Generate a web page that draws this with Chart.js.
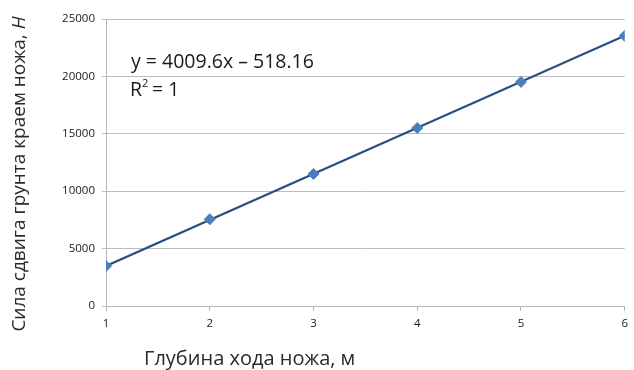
<!DOCTYPE html>
<html>
<head>
<meta charset="utf-8">
<script src="https://cdn.jsdelivr.net/npm/chart.js@4/dist/chart.umd.min.js"></script>
<style>
  html, body { margin: 0; padding: 0; background: #fff; }
  #wrap { width: 634px; height: 370px; }
</style>
</head>
<body>
<div id="wrap"><canvas id="chart" width="634" height="370"></canvas></div>
<script>
/* ---------------------------------------------------
   Data
---------------------------------------------------*/

const depths = [1, 2, 3, 4, 5, 6];
const forces = [3480, 7550, 11500, 15500, 19520, 23530];

// trendline end points, as drawn
const trendX = [1, 6];
const trendY = [3490, 23540];

const yTicks = [0, 5000, 10000, 15000, 20000, 25000];

const xTitle = "Глубина хода ножа, м";
const yTitle = "Сила сдвига грунта краем ножа, ";
const yTitleUnit = "Н";
const equation = "y = 4009.6x \u2013 518.16";

const FONT = "'Open Sans', 'DejaVu Sans', sans-serif";

/* ---------------------------------------------------
   Text labels drawn on the canvas
---------------------------------------------------*/

const labelsPlugin = {
    id: "labels",
    afterDraw(chart) {
        const ctx = chart.ctx;
        ctx.save();
        ctx.fillStyle = "#1a1a1a";

        // equation and R^2
        ctx.font = "19.5px " + FONT;
        ctx.textAlign = "left";
        ctx.textBaseline = "alphabetic";
        ctx.fillText(equation, 131, 68);
        ctx.fillText("R", 130, 96);
        const rw = ctx.measureText("R").width;
        ctx.font = "11px " + FONT;
        ctx.fillText("2", 130 + rw, 87);
        ctx.font = "19.5px " + FONT;
        ctx.fillText(" = 1", 130 + rw + 5, 96);

        // x axis title
        ctx.fillStyle = "#2a2a2a";
        ctx.font = "20px " + FONT;
        ctx.fillText(xTitle, 144, 365);

        // y axis title, rotated, with italic unit
        ctx.translate(25, 174);
        ctx.rotate(-Math.PI / 2);
        ctx.font = "19px " + FONT;
        const w1 = ctx.measureText(yTitle).width;
        ctx.font = "italic 19px " + FONT;
        const w2 = ctx.measureText(yTitleUnit).width;
        const start = -(w1 + w2) / 2;
        ctx.font = "19px " + FONT;
        ctx.fillText(yTitle, start, 0);
        ctx.font = "italic 19px " + FONT;
        ctx.fillText(yTitleUnit, start + w1, 0);

        ctx.restore();
    }
};

/* ---------------------------------------------------
   Chart
---------------------------------------------------*/

new Chart(document.getElementById("chart"), {
    type: "scatter",
    data: {
        datasets: [
            {
                label: "Trend",
                data: trendX.map((x, i) => ({ x: x, y: trendY[i] })),
                showLine: true,
                borderColor: "#264f7d",
                borderWidth: 2.2,
                pointRadius: 0,
                order: 2
            },
            {
                label: "Force",
                data: depths.map((x, i) => ({ x: x, y: forces[i] })),
                showLine: false,
                pointStyle: "rectRot",
                pointRadius: 5.5,
                backgroundColor: "#4a7ebb",
                borderColor: "#4a7ebb",
                borderWidth: 1,
                order: 1
            }
        ]
    },
    options: {
        responsive: false,
        animation: false,
        layout: { padding: { top: 19, right: 6, bottom: 0, left: 0 } },
        plugins: {
            legend: { display: false },
            tooltip: { enabled: false }
        },
        scales: {
            x: {
                type: "linear",
                min: 1,
                max: 6,
                afterFit: s => { s.height = 64; },
                ticks: {
                    stepSize: 1,
                    color: "#1a1a1a",
                    font: { family: FONT, size: 11.5 },
                    padding: 6,
                    callback: v => String(v)
                },
                grid: {
                    drawOnChartArea: false,
                    drawTicks: true,
                    tickLength: 5,
                    color: "#b5b5b5"
                },
                border: { display: true, color: "#b5b5b5" }
            },
            y: {
                min: 0,
                max: 25000,
                afterFit: s => { s.width = 106; },
                afterBuildTicks: s => { s.ticks = yTicks.map(v => ({ value: v })); },
                ticks: {
                    color: "#1a1a1a",
                    font: { family: FONT, size: 11.5 },
                    padding: 7,
                    callback: v => String(v)
                },
                grid: {
                    color: "#bdbdbd",
                    drawTicks: true,
                    tickLength: 4
                },
                border: { display: true, color: "#b5b5b5" }
            }
        }
    },
    plugins: [labelsPlugin]
});
</script>
</body>
</html>
